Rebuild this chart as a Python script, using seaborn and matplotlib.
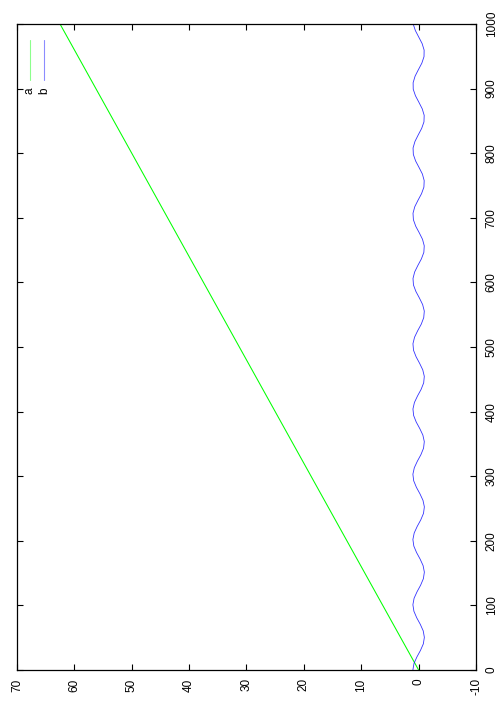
"""
Rotated line chart (landscape page shown in portrait): a straight line and a cosine wave.
"""

import numpy as np
import matplotlib

matplotlib.use("Agg")
import matplotlib.pyplot as plt
import seaborn as sns

# sample positions along the long axis (100 samples from 0 to 1000)
t_samples = np.linspace(0, 1000, 100)

# series a: straight line, read from the two ends
a_t = [0, 1000]
a_vals = [0.0, 62.5]

# series b: wave around zero at each sample
b_vals = [
    1.00, 0.81, 0.30, -0.32, -0.82, -1.00, -0.80, -0.29, 0.33, 0.82,
    1.00, 0.79, 0.27, -0.35, -0.83, -1.00, -0.78, -0.26, 0.36, 0.84,
    1.00, 0.77, 0.25, -0.37, -0.85, -1.00, -0.76, -0.23, 0.39, 0.86,
    1.00, 0.75, 0.22, -0.40, -0.86, -0.99, -0.74, -0.20, 0.42, 0.87,
    0.99, 0.73, 0.19, -0.43, -0.88, -0.99, -0.72, -0.17, 0.44, 0.89,
    0.99, 0.71, 0.16, -0.46, -0.89, -0.99, -0.70, -0.14, 0.47, 0.90,
    0.98, 0.69, 0.13, -0.48, -0.91, -0.98, -0.68, -0.11, 0.50, 0.91,
    0.98, 0.67, 0.10, -0.51, -0.92, -0.97, -0.66, -0.08, 0.52, 0.92,
    0.97, 0.64, 0.07, -0.53, -0.93, -0.97, -0.63, -0.05, 0.55, 0.94,
    0.96, 0.62, 0.04, -0.56, -0.94, -0.96, -0.61, -0.02, 0.57, 0.95,
]

value_ticks = [70, 60, 50, 40, 30, 20, 10, 0, -10]
t_ticks = list(range(0, 1001, 100))
series_labels = ["a", "b"]
series_colors = ["#00ff00", "#0000ff"]


def main():
    sns.set_style("ticks")
    plt.rcParams["font.family"] = ["Liberation Sans", "DejaVu Sans"]
    plt.rcParams["axes.unicode_minus"] = False
    plt.rcParams["text.color"] = "black"
    plt.rcParams["xtick.color"] = "black"
    plt.rcParams["ytick.color"] = "black"

    fig = plt.figure(figsize=(5.04, 7.2), dpi=100)
    ax = fig.add_axes([17 / 504, 50 / 720, 459 / 504, 646 / 720])

    sns.lineplot(x=a_vals, y=a_t, orient="y", sort=False, estimator=None,
                 color=series_colors[0], linewidth=0.75, ax=ax)
    sns.lineplot(x=b_vals, y=t_samples, orient="y", sort=False, estimator=None,
                 color=series_colors[1], linewidth=0.6, alpha=0.8, ax=ax)

    ax.set_xlim(70, -10)
    ax.set_ylim(0, 1000)
    ax.set_xticks(value_ticks)
    ax.set_yticks(t_ticks)
    ax.set_xticklabels([str(v) for v in value_ticks], rotation=90, fontsize=8.5)
    ax.set_yticklabels([str(v) for v in t_ticks], rotation=90, fontsize=8.5, va="center")
    ax.yaxis.tick_right()
    ax.tick_params(axis="both", direction="in", length=4.3, width=0.8,
                   top=True, bottom=True, left=True, right=True,
                   labelleft=False, labelright=True, colors="black")
    ax.tick_params(axis="x", pad=6)
    ax.tick_params(axis="y", pad=7)
    for spine in ax.spines.values():
        spine.set_visible(True)
        spine.set_linewidth(0.9)
        spine.set_color("black")
    ax.set_xlabel("")
    ax.set_ylabel("")

    # key, drawn sideways like the rest of the page
    key_x = [0.028, 0.059]
    for x, lab, col in zip(key_x, series_labels, series_colors):
        ax.plot([x, x], [0.913, 0.975], transform=ax.transAxes,
                color=col, linewidth=0.8, alpha=0.45)
        ax.text(x, 0.902, lab, transform=ax.transAxes, rotation=90,
                ha="center", va="top", fontsize=8.5, color="black")

    fig.savefig("out.png", dpi=100)
    plt.close(fig)


if __name__ == "__main__":
    main()
